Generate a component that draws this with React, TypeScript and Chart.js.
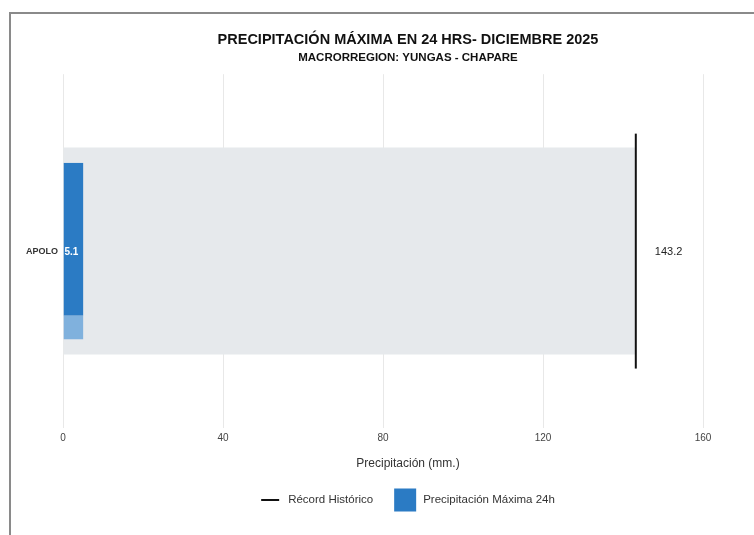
import React, { useEffect, useRef } from 'react';
import { Chart, registerables } from 'chart.js';

Chart.register(...registerables);

// ---- Data ----
const categories: string[] = ['APOLO'];
const precipMax24h: number[] = [5.1];
const recordHistorico: number[] = [143.2];
const xTickValues: number[] = [0, 40, 80, 120, 160];

const titleText = 'PRECIPITACIÓN MÁXIMA EN 24 HRS- DICIEMBRE 2025';
const subtitleText = 'MACRORREGION: YUNGAS - CHAPARE';
const xAxisTitle = 'Precipitación (mm.)';
const recordLabel = 'Récord Histórico';
const precipLabel = 'Precipitación Máxima 24h';

const FONT = '"Liberation Sans", Arial, Helvetica, sans-serif';
const BLUE = '#2b7bc4';
const BLUE_LIGHT = '#80b1dd';
const GRAY_BAR = '#e6e9ec';

const overlayPlugin = {
  id: 'overlayPlugin',
  afterDatasetsDraw(chart: any) {
    const ctx = chart.ctx as CanvasRenderingContext2D;
    const xs = chart.scales.x;
    const ys = chart.scales.y;
    const catSize = (ys.bottom - ys.top) / categories.length;
    const precipMeta = chart.getDatasetMeta(0);
    ctx.save();
    recordHistorico.forEach((rec, i) => {
      const x = xs.getPixelForValue(rec);
      const yc = ys.getPixelForValue(i);
      const half = (catSize * 0.664) / 2;
      ctx.strokeStyle = '#111';
      ctx.lineWidth = 2;
      ctx.beginPath();
      ctx.moveTo(x, yc - half);
      ctx.lineTo(x, yc + half);
      ctx.stroke();
      ctx.fillStyle = '#222';
      ctx.font = `11px ${FONT}`;
      ctx.textBaseline = 'middle';
      ctx.textAlign = 'left';
      ctx.fillText(rec.toFixed(1), x + 19, yc + 1);
    });
    precipMeta.data.forEach((el: any, i: number) => {
      ctx.fillStyle = '#ffffff';
      ctx.font = `bold 10px ${FONT}`;
      ctx.textBaseline = 'middle';
      ctx.textAlign = 'left';
      ctx.fillText(String(precipMax24h[i]), el.base + 1, ys.getPixelForValue(i) + 1);
    });
    ctx.restore();
  },
  afterDraw(chart: any) {
    const ctx = chart.ctx as CanvasRenderingContext2D;
    const xs = chart.scales.x;
    const cx = chart.width / 2;
    ctx.save();
    // x axis title
    ctx.fillStyle = '#333';
    ctx.font = `12px ${FONT}`;
    ctx.textAlign = 'center';
    ctx.textBaseline = 'middle';
    ctx.fillText(xAxisTitle, cx, xs.bottom + 16);
    // legend
    const ly = xs.bottom + 52;
    ctx.font = `11.5px ${FONT}`;
    const lineW = 18, gap1 = 9, gapItems = 21, boxW = 22, gap2 = 7;
    const t1 = ctx.measureText(recordLabel).width;
    const t2 = ctx.measureText(precipLabel).width;
    const total = lineW + gap1 + t1 + gapItems + boxW + gap2 + t2;
    let x = cx - total / 2;
    ctx.strokeStyle = '#111';
    ctx.lineWidth = 2;
    ctx.beginPath();
    ctx.moveTo(x, ly);
    ctx.lineTo(x + lineW, ly);
    ctx.stroke();
    x += lineW + gap1;
    ctx.fillStyle = '#333';
    ctx.textAlign = 'left';
    ctx.fillText(recordLabel, x, ly);
    x += t1 + gapItems;
    ctx.fillStyle = BLUE;
    ctx.fillRect(x, ly - 11.5, boxW, 23);
    x += boxW + gap2;
    ctx.fillStyle = '#333';
    ctx.fillText(precipLabel, x, ly);
    ctx.restore();
  },
};

export default function App() {
  const canvasRef = useRef<HTMLCanvasElement | null>(null);

  useEffect(() => {
    if (!canvasRef.current) return;
    const chart = new Chart(canvasRef.current, {
      type: 'bar',
      data: {
        labels: categories,
        datasets: [
          {
            label: precipLabel,
            data: precipMax24h,
            backgroundColor: BLUE,
            borderColor: BLUE_LIGHT,
            borderWidth: { top: 0, right: 0, bottom: 24, left: 0 },
            borderSkipped: false,
            grouped: false,
            categoryPercentage: 1,
            barPercentage: 0.5,
            order: 1,
          } as any,
          {
            label: recordLabel,
            data: recordHistorico,
            backgroundColor: GRAY_BAR,
            borderWidth: 0,
            grouped: false,
            categoryPercentage: 1,
            barPercentage: 0.585,
            order: 2,
          } as any,
        ],
      },
      options: {
        indexAxis: 'y',
        animation: false,
        responsive: false,
        maintainAspectRatio: false,
        layout: { padding: { left: 0, right: 0, top: 0, bottom: 87 } },
        scales: {
          x: {
            min: xTickValues[0],
            max: xTickValues[xTickValues.length - 1],
            afterBuildTicks: (scale: any) => {
              scale.ticks = xTickValues.map((v) => ({ value: v }));
            },
            grid: { color: '#e8e8e8', drawTicks: false, lineWidth: 1 },
            border: { display: false },
            ticks: {
              padding: 4,
              color: '#444',
              font: { family: FONT, size: 10 },
            },
          },
          y: {
            grid: { display: false, drawTicks: false },
            border: { display: false },
            afterFit: (scale: any) => {
              scale.width = 52;
            },
            ticks: {
              padding: 5,
              color: '#333',
              font: { family: FONT, size: 9, weight: 'bold' },
            },
          },
          yRight: {
            type: 'category',
            position: 'right',
            labels: categories,
            grid: { display: false, drawTicks: false },
            border: { display: false },
            ticks: { display: false },
            afterFit: (scale: any) => {
              scale.width = 102;
            },
          },
        },
        plugins: {
          legend: { display: false },
          tooltip: { enabled: false },
          title: {
            display: true,
            text: titleText,
            color: '#111',
            font: { family: FONT, size: 14.5, weight: 'bold' },
            padding: { top: 17, bottom: 0 },
          },
          subtitle: {
            display: true,
            text: subtitleText,
            color: '#111',
            font: { family: FONT, size: 11.5, weight: 'bold' },
            padding: { top: 3, bottom: 9 },
          },
        },
      },
      plugins: [overlayPlugin],
    } as any);
    return () => chart.destroy();
  }, []);

  return (
    <div
      style={{
        position: 'fixed',
        left: 9,
        top: 12,
        width: 800,
        height: 530,
        borderTop: '2px solid #8a8a8a',
        borderLeft: '2px solid #8a8a8a',
        overflow: 'hidden',
        background: '#fff',
      }}
    >
      <canvas ref={canvasRef} width={794} height={521} style={{ display: 'block', width: 794, height: 521 }} />
    </div>
  );
}
